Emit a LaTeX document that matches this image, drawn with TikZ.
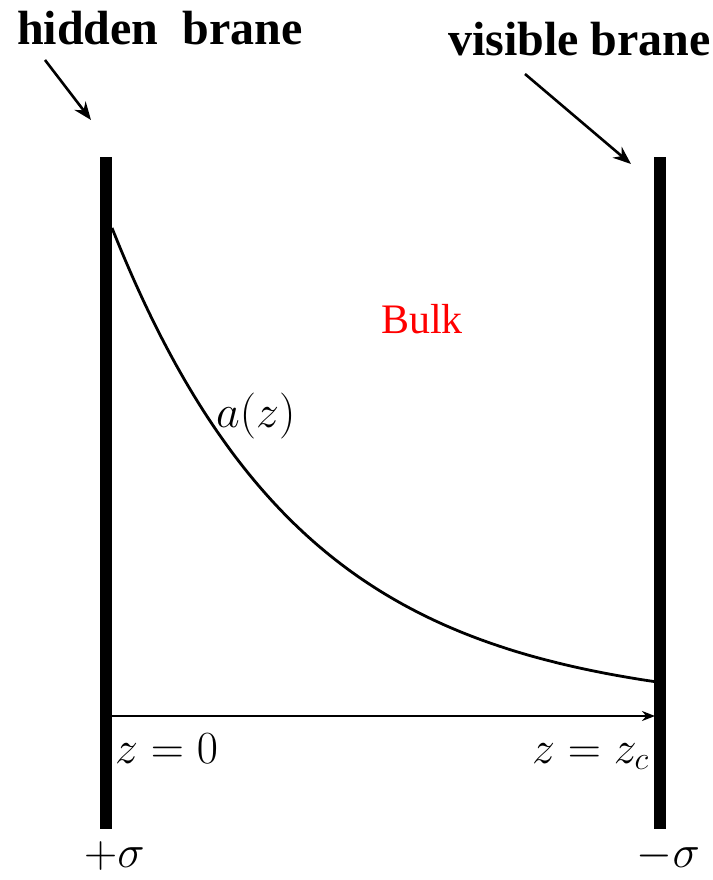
\RequirePackage{fix-cm}
\documentclass[tikz,border=0pt]{standalone}
\usepackage{fontspec}
\setmainfont{Liberation Serif}
\usetikzlibrary{arrows.meta}
\begin{document}
\begin{tikzpicture}[x=1pt,y=-1pt,
  brane/.style={line width=12pt},
  pointer/.style={line width=2.6pt,-{Stealth[length=18pt,width=14pt]}},
  axis/.style={line width=2.6pt,-{Stealth[length=13pt,width=10pt]}},
  warp/.style={line width=2.8pt},
  title/.style={inner sep=0pt,font=\fontsize{48}{52}\selectfont\bfseries},
  mathlbl/.style={inner sep=0pt,font=\fontsize{46}{50}\selectfont},
  bulklbl/.style={inner sep=0pt,text=red,font=\fontsize{42}{46}\selectfont}]
\useasboundingbox (0,0) rectangle (712,880);
% branes
\coordinate (htop) at (106,157);
\coordinate (hbot) at (106,829);
\coordinate (vtop) at (660,157);
\coordinate (vbot) at (660,829);
\draw[brane] (htop) -- (hbot);
\draw[brane] (vtop) -- (vbot);
% titles and pointers
\node[title,anchor=base west] (hidden) at (17,45) {hidden\ \ brane};
\node[title,anchor=base west] (visible) at (448,56) {visible brane};
\coordinate (hs) at (45,60);
\coordinate (he) at (91,120);
\coordinate (vs) at (525,74);
\coordinate (ve) at (631,164);
\draw[pointer] (hs) -- (he);
\draw[pointer] (vs) -- (ve);
% axis
\coordinate (as) at (112,716);
\coordinate (ae) at (655,716);
\draw[axis] (as) -- (ae);
% warp factor curve
\draw[warp] plot[domain=0:542,samples=120] ({112+\x},{710-482*exp(-0.00522*\x)});
% labels
\node[bulklbl,anchor=base west] (bulk) at (381,333) {Bulk};
\node[mathlbl,anchor=base west] (az) at (216,427) {$a(z)$};
\node[mathlbl,anchor=base west] (z0) at (115,763) {$z=0$};
\node[mathlbl,anchor=base east] (zc) at (649,763) {$z=z_c$};
\node[mathlbl,anchor=base west] (sp) at (84,867) {$+\sigma$};
\node[mathlbl,anchor=base east] (sm) at (700,867) {$-\sigma$};
\end{tikzpicture}
\end{document}
